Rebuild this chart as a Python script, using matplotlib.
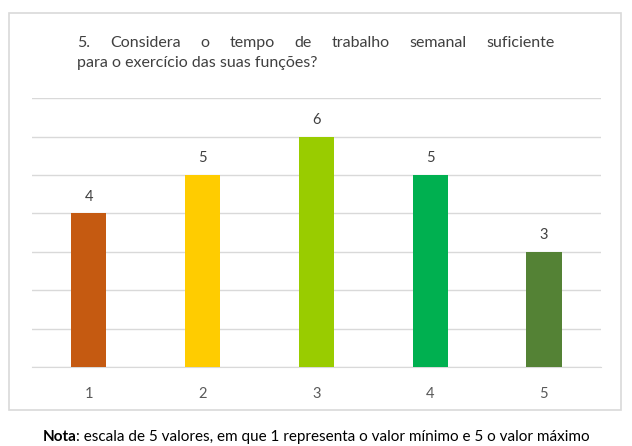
import matplotlib.pyplot as plt
from matplotlib.patches import Rectangle

categorias = ['1', '2', '3', '4', '5']
valores = [4, 5, 6, 5, 3]
cores = ['#C55A11', '#FFCC00', '#99CC00', '#00B050', '#548235']

plt.rcParams['font.family'] = ['Lato', 'DejaVu Sans']

W, H = 632, 446
fig = plt.figure(figsize=(6.32, 4.46), dpi=100)

# moldura do gráfico
fig.patches.append(Rectangle((0.0142, 0.0807), 0.968, 0.890, transform=fig.transFigure,
                             facecolor='white', edgecolor='#d9d9d9', linewidth=1.2, zorder=-5))

ax = fig.add_axes([0.0506, 0.177, 0.9, 0.603])
ax.set_facecolor('none')
x = range(len(categorias))
barras = ax.bar(x, valores, width=0.31, color=cores, zorder=3)
ax.set_xlim(-0.5, 4.5)
ax.set_ylim(0, 7)
ax.set_yticks(range(0, 8))
ax.set_yticklabels([])
ax.tick_params(axis='y', length=0)
ax.set_xticks(list(x))
ax.set_xticklabels(categorias, fontsize=10.5, color='#595959')
ax.tick_params(axis='x', length=0, pad=14)
ax.grid(axis='y', color='#d9d9d9', linewidth=1)
for s in ['top', 'right', 'left']:
    ax.spines[s].set_visible(False)
ax.spines['bottom'].set_color('#d9d9d9')

for b, v in zip(barras, valores):
    ax.annotate(str(v), (b.get_x() + b.get_width() / 2, v), xytext=(0, 7),
                textcoords='offset points', ha='center', va='bottom',
                fontsize=10.5, color='#404040')

# título justificado (primeira linha)
linha1 = '5. Considera o tempo de trabalho semanal suficiente'.split()
linha2 = 'para o exercício das suas funções?'
x0, x1 = 77, 555
renderer = fig.canvas.get_renderer()
textos = [fig.text(0, 1 - 47 / H, w, fontsize=11.5, color='#404040', va='baseline', ha='left')
          for w in linha1]
larguras = [t.get_window_extent(renderer).width for t in textos]
gap = (x1 - x0 - sum(larguras)) / (len(linha1) - 1)
pos = x0
for t, lw in zip(textos, larguras):
    t.set_x(pos / W)
    pos += lw + gap
fig.text(x0 / W, 1 - 67 / H, linha2, fontsize=11.5, color='#404040', va='baseline', ha='left')

# nota
n1 = fig.text(0, 1 - 437 / H, 'Nota', fontsize=11, fontweight='bold', va='center', ha='left')
n2 = fig.text(0, 1 - 437 / H, ': escala de 5 valores, em que 1 representa o valor mínimo e 5 o valor máximo',
              fontsize=11, va='center', ha='left')
w1 = n1.get_window_extent(renderer).width
w2 = n2.get_window_extent(renderer).width
inicio = (W - w1 - w2) / 2
n1.set_x(inicio / W)
n2.set_x((inicio + w1) / W)

fig.savefig('out.png', dpi=100)
